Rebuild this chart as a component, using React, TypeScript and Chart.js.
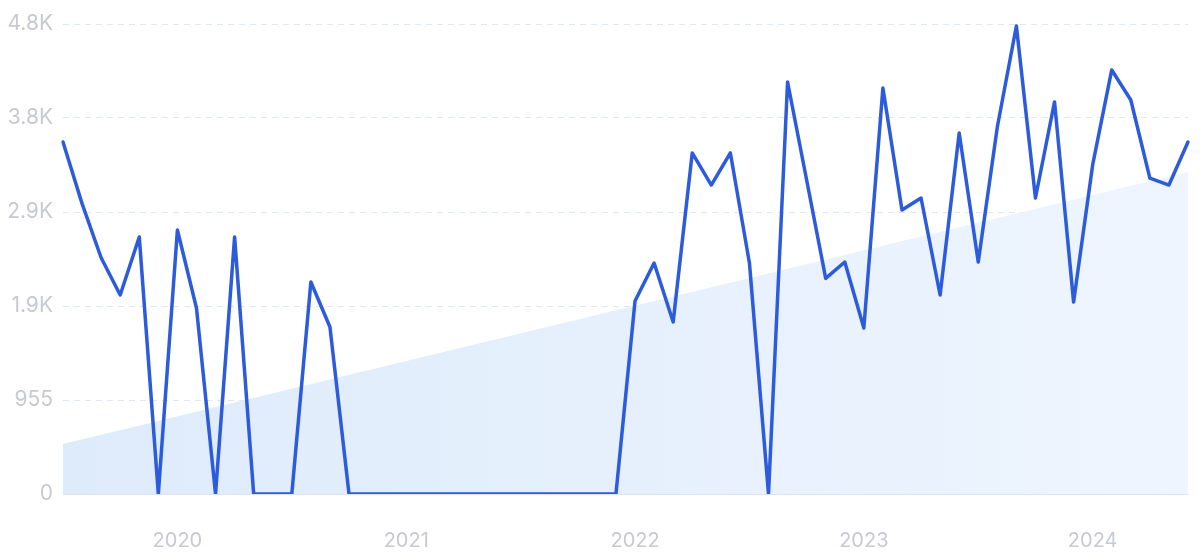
import React, { useEffect, useRef } from "react";
import { Chart, registerables } from "chart.js";

Chart.register(...registerables);

const months: string[] = [
  "2019-07", "2019-08", "2019-09", "2019-10", "2019-11", "2019-12",
  "2020-01", "2020-02", "2020-03", "2020-04", "2020-05", "2020-06",
  "2020-07", "2020-08", "2020-09", "2020-10", "2020-11", "2020-12",
  "2021-01", "2021-02", "2021-03", "2021-04", "2021-05", "2021-06",
  "2021-07", "2021-08", "2021-09", "2021-10", "2021-11", "2021-12",
  "2022-01", "2022-02", "2022-03", "2022-04", "2022-05", "2022-06",
  "2022-07", "2022-08", "2022-09", "2022-10", "2022-11", "2022-12",
  "2023-01", "2023-02", "2023-03", "2023-04", "2023-05", "2023-06",
  "2023-07", "2023-08", "2023-09", "2023-10", "2023-11", "2023-12",
  "2024-01", "2024-02", "2024-03", "2024-04", "2024-05", "2024-06",
];

const volume: number[] = [
  3576, 2950, 2400, 2022, 2611, 0,
  2682, 1890, 0, 2611, 0, 0,
  0, 2154, 1697, 0, 0, 0,
  0, 0, 0, 0, 0, 0,
  0, 0, 0, 0, 0, 0,
  1961, 2347, 1748, 3465, 3139, 3465,
  2347, 0, 4186, 3190, 2190, 2357,
  1687, 4125, 2885, 3007, 2022, 3668,
  2357, 3729, 4755, 3007, 3983, 1951,
  3343, 4308, 4003, 3210, 3139, 3576,
];

// trend endpoints (straight line between first and last month)
const trendStart = 508;
const trendEnd = 3271;
const trend: (number | null)[] = months.map((_, i) =>
  i === 0 ? trendStart : i === months.length - 1 ? trendEnd : null
);

const yTicks: number[] = [0, 955, 1910, 2865, 3820, 4775];

function fmt(v: number): string {
  if (v >= 1000) return (v / 1000).toFixed(1) + "K";
  return String(v);
}

export default function App() {
  const ref = useRef<HTMLCanvasElement>(null);
  useEffect(() => {
    if (!ref.current) return;
    const chart = new Chart(ref.current, {
      type: "line",
      data: {
        labels: months,
        datasets: [
          {
            data: volume,
            borderColor: "#2c5bdb",
            borderWidth: 3.5,
            pointRadius: 0,
            tension: 0,
            fill: false,
            order: 0,
            borderJoinStyle: "round",
            borderCapStyle: "round",
          },
          {
            data: trend,
            spanGaps: true,
            borderWidth: 0,
            borderColor: "rgba(0,0,0,0)",
            pointRadius: 0,
            fill: "origin",
            order: 1,
            backgroundColor: (ctx: any) => {
              const ca = ctx.chart.chartArea;
              if (!ca) return "rgba(220,233,250,0.8)";
              const g = ctx.chart.ctx.createLinearGradient(ca.left, 0, ca.right, 0);
              g.addColorStop(0, "#deebfb");
              g.addColorStop(1, "#eef5fe");
              return g;
            },
          },
        ],
      },
      options: {
        animation: false,
        responsive: false,
        maintainAspectRatio: false,
        layout: { padding: { top: 24, right: 12, left: 0, bottom: 0 } },
        plugins: { legend: { display: false }, tooltip: { enabled: false } },
        scales: {
          x: {
            type: "category",
            grid: { display: false, drawTicks: false },
            border: { display: true, color: "#dbe4f3", width: 1 },
            afterFit: (s: any) => {
              s.height = 66;
              s.paddingRight = 0;
              s.paddingLeft = 0;
            },
            ticks: {
              autoSkip: false,
              maxRotation: 0,
              padding: 35,
              color: "#c8c9d1",
              font: { family: "Inter", size: 20 },
              callback: (_v: any, i: number) =>
                months[i].endsWith("-01") ? months[i].slice(0, 4) : "",
            },
          },
          y: {
            min: 0,
            max: 4775,
            afterBuildTicks: (s: any) => {
              s.ticks = yTicks.map((v) => ({ value: v }));
            },
            afterFit: (s: any) => {
              s.width = 63;
              s.paddingTop = 0;
              s.paddingBottom = 0;
            },
            grid: {
              drawTicks: false,
              color: (c: any) => (c.tick && c.tick.value === 0 ? "rgba(0,0,0,0)" : "#dfe6f4"),
              lineWidth: 1,
            },
            border: { display: false, dash: [6, 5] },
            ticks: {
              padding: 10,
              color: "#c8c9d1",
              font: { family: "Inter", size: 21 },
              callback: (v: any) => fmt(Number(v)),
            },
          },
        },
      },
    });
    return () => chart.destroy();
  }, []);
  return (
    <div style={{ position: "fixed", left: 0, top: 0, width: 1200, height: 560, background: "#fff" }}>
      <canvas ref={ref} width={1200} height={560} style={{ width: 1200, height: 560 }} />
    </div>
  );
}
